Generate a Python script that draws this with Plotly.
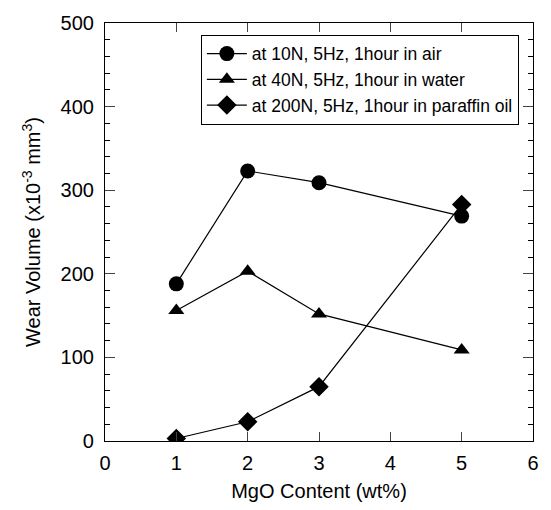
import plotly.graph_objects as go

mgo = [1, 2, 3, 5]
air_10N = [188, 323, 309, 269]
water_40N = [156, 203, 152, 109]
oil_200N = [3, 23, 65, 283]
names = ["at 10N, 5Hz, 1hour in air",
         "at 40N, 5Hz, 1hour in water",
         "at 200N, 5Hz, 1hour in paraffin oil"]
x_ticks = [0, 1, 2, 3, 4, 5, 6]
y_ticks = [0, 100, 200, 300, 400, 500]

fig = go.Figure()
for ys, nm, sym in [(air_10N, names[0], "circle"),
                    (water_40N, names[1], "triangle-up"),
                    (oil_200N, names[2], "diamond")]:
    fig.add_trace(go.Scatter(
        x=mgo, y=ys, name=nm, mode="lines+markers",
        line=dict(color="black", width=1.2),
        marker=dict(symbol=sym, size=15 if sym != "triangle-up" else 14, color="black"),
    ))

font = "Liberation Sans, Arial, sans-serif"
fig.update_layout(
    width=551, height=510,
    margin=dict(l=105, r=18, t=20, b=68),
    paper_bgcolor="white", plot_bgcolor="white",
    font=dict(family=font, color="black", size=20),
    showlegend=True,
    legend=dict(x=0.224, y=0.972, xanchor="left", yanchor="top",
                bordercolor="black", borderwidth=1, bgcolor="white",
                font=dict(size=17.5, family=font), tracegroupgap=0,
                itemwidth=40),
)
fig.update_xaxes(
    range=[0, 6], tickvals=x_ticks, ticks="inside", ticklen=9,
    showline=True, linecolor="black", linewidth=1.2, mirror="ticks",
    showgrid=False, zeroline=False, tickfont=dict(size=20),
    ticklabelstandoff=4,
    title=dict(text="MgO Content (wt%)", font=dict(size=20), standoff=10),
)
fig.update_yaxes(
    range=[0, 500], tickvals=y_ticks, ticks="inside", ticklen=10,
    showline=True, linecolor="black", linewidth=1.2, mirror="ticks",
    showgrid=False, zeroline=False, tickfont=dict(size=20),
    ticklabelstandoff=6,
    minor=dict(dtick=20, ticks="inside", ticklen=5, tickcolor="black", showgrid=False),
    title=dict(text="Wear Volume (x10<sup>-3</sup> mm<sup>3</sup>)", font=dict(size=20), standoff=14),
)
fig.write_html("out.html")
